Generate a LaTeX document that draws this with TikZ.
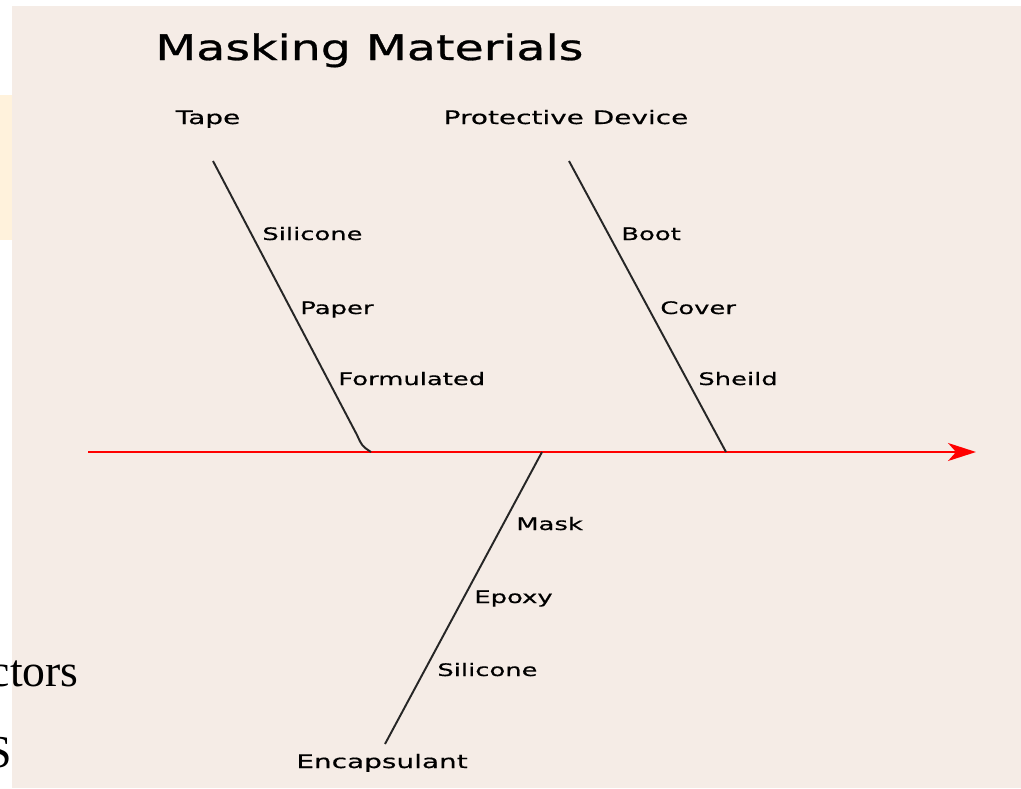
\documentclass[tikz,border=0pt]{standalone}
\usepackage{fontspec}
\usepackage{xcolor}
\usetikzlibrary{arrows.meta, positioning}
\newfontfamily\pixfont[FakeStretch=1.5, FakeBold=0.6]{DejaVu Sans}
\newfontfamily\pixtitle[FakeStretch=1.35, FakeBold=0.8]{DejaVu Sans}
\newfontfamily\slidefont{Liberation Serif}
\definecolor{canvas}{HTML}{F5ECE6}
\definecolor{notebox}{HTML}{FFF2DC}

\begin{document}
\begin{tikzpicture}[
  x=0.02cm, y=-0.02cm,
  bone/.style={draw=black!85, line width=1.1pt},
  spine/.style={draw=red, line width=1.2pt, -{Stealth[length=5.6mm, width=3.6mm, inset=1.6mm]}},
  cause/.style={font=\pixfont\fontsize{9.8}{12}\selectfont, inner sep=0pt, anchor=base west},
  head/.style={font=\pixfont\fontsize{10.6}{12}\selectfont, inner sep=0pt, anchor=base},
  titletext/.style={font=\pixtitle\fontsize{20}{22}\selectfont, inner sep=0pt, anchor=base west},
  slidetext/.style={font=\slidefont\fontsize{26}{30}\selectfont, inner sep=0pt, anchor=base east}
]
  \useasboundingbox (0,0) rectangle (1021,788);
  \clip (0,0) rectangle (1021,788);
  \fill[white] (0,0) rectangle (1021,788);
  \fill[notebox] (0,95) rectangle (12,240);
  \fill[canvas] (12,6) rectangle (1021,788);

  \node [slidetext] (factors) at (79,686) {actors};
  \node [slidetext] (sfrag) at (12,767) {S};

  \node [titletext] (title) at (155,60) {Masking Materials};

  \coordinate (spinestart) at (88,452);
  \coordinate (spineend) at (976,452);
  \draw [spine] (spinestart) -- (spineend);

  \node [head] (tape) at (208,124) {Tape};
  \node [head] (device) at (566,124) {Protective Device};
  \node [head] (encap) at (382,768) {Encapsulant};

  \coordinate (tapetop) at (213,161);
  \coordinate (tapebend) at (357,435);
  \coordinate (tapefoot) at (371,452);
  \coordinate (devicetop) at (569,161);
  \coordinate (devicefoot) at (726,452);
  \coordinate (encaptop) at (385,744);
  \coordinate (encapfoot) at (542,452);

  \draw [bone] (tapetop) -- (tapebend) .. controls (362,446) .. (tapefoot);
  \draw [bone] (devicetop) -- (devicefoot);
  \draw [bone] (encaptop) -- (encapfoot);

  \node [cause] (tape1) at (262,240) {Silicone};
  \node [cause] (tape2) at (300,314) {Paper};
  \node [cause] (tape3) at (338,385) {Formulated};

  \node [cause] (device1) at (621,240) {Boot};
  \node [cause] (device2) at (660,314) {Cover};
  \node [cause] (device3) at (698,385) {Sheild};

  \node [cause] (encap1) at (516,530) {Mask};
  \node [cause] (encap2) at (474,603) {Epoxy};
  \node [cause] (encap3) at (437,676) {Silicone};
\end{tikzpicture}
\end{document}
